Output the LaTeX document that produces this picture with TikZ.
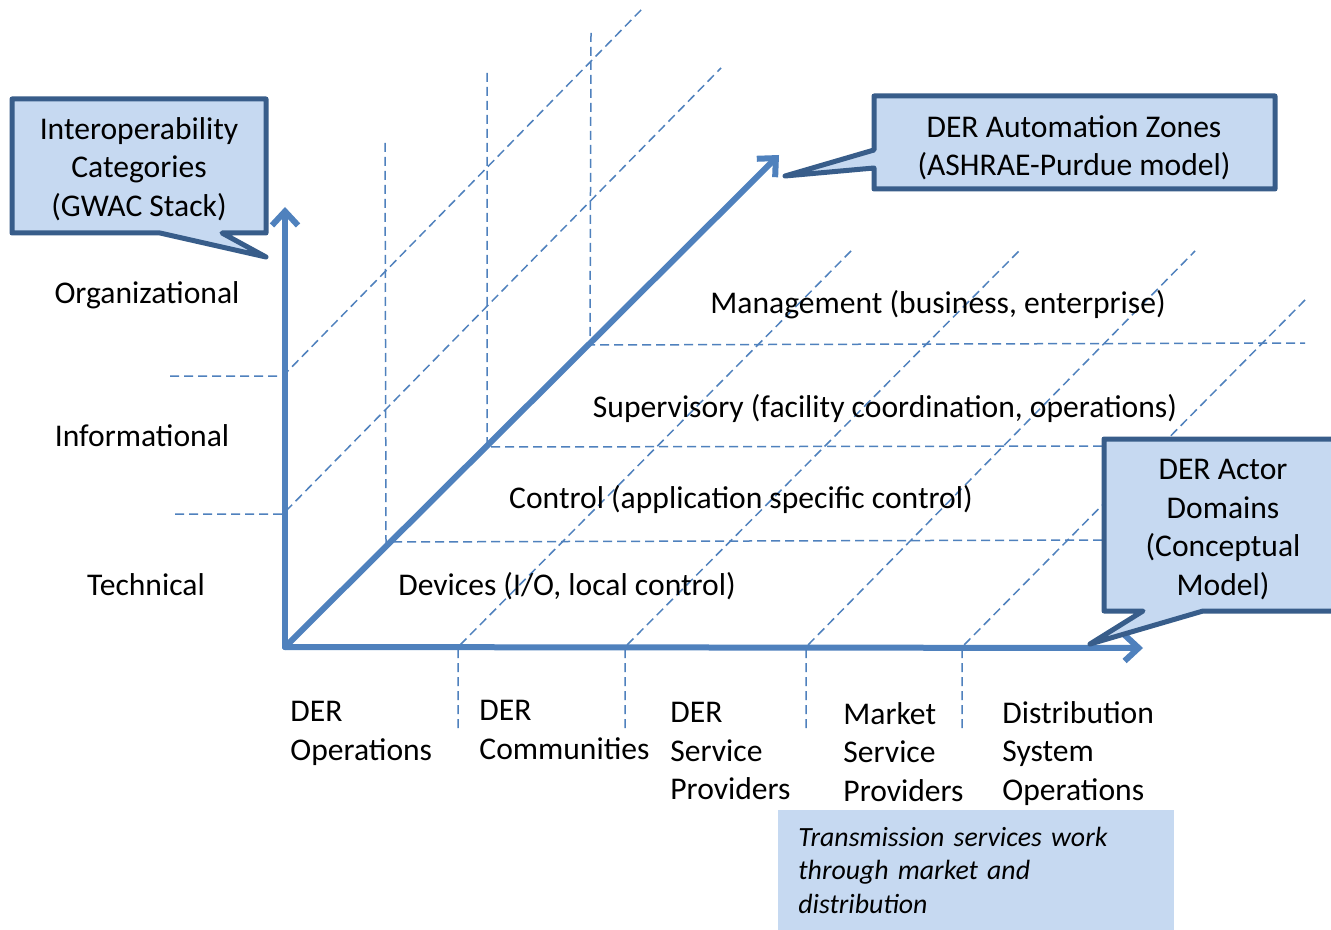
\documentclass[tikz,border=0pt]{standalone}
\usepackage{fontspec}
\setmainfont{Carlito}
\usetikzlibrary{arrows.meta}
\definecolor{axisblue}{HTML}{4F81BD}
\definecolor{callfill}{HTML}{C6D9F1}
\definecolor{callline}{HTML}{385D8A}
\begin{document}
\begin{tikzpicture}[x=0.5pt,y=-0.5pt,
  axis/.style={draw=axisblue,line width=3pt,-{Straight Barb[length=7pt,width=13pt]},line cap=round,line join=round},
  gridline/.style={draw=axisblue,line width=0.75pt,dash pattern=on 4.5pt off 2.5pt},
  callout/.style={fill=callfill,draw=callline,line width=2.5pt,line join=round},
  lbl/.style={font=\fontsize{15.8}{19.3}\selectfont,inner sep=0pt},
  mlbl/.style={lbl,align=left,anchor=north west},
  clbl/.style={lbl,align=center,anchor=north},
]
\clip (0,0) rectangle (1331,930);
\fill[white] (0,0) rectangle (1331,930);

% --- coordinates
\coordinate (O) at (285,647);
\coordinate (Ytip) at (285,207);
\coordinate (Xtip) at (1143,648);
\coordinate (Dtip) at (779,155);

% left horizontal + diagonal dashed
\coordinate (lh1a) at (170,376); \coordinate (lh1b) at (283,376); \coordinate (ld1) at (643,8);
\coordinate (lh2a) at (175,514); \coordinate (lh2b) at (283,514); \coordinate (ld2) at (721,68);
% vertical dashed from diagonal upward + horizontal to the right
\coordinate (c1) at (386,542); \coordinate (v1t) at (385,143); \coordinate (h1e) at (1110,540);
\coordinate (c2) at (487,447); \coordinate (v2t) at (487,73);  \coordinate (h2e) at (1110,446);
\coordinate (c3) at (590,345); \coordinate (v3t) at (591,33);  \coordinate (h3e) at (1305,343);
% right diagonals from horizontal axis
\coordinate (b1) at (458,647); \coordinate (t1) at (851,251); \coordinate (u1) at (458,728);
\coordinate (b2) at (625,647); \coordinate (t2) at (1019,251); \coordinate (u2) at (625,728);
\coordinate (b3) at (806,647); \coordinate (t3) at (1195,251); \coordinate (u3) at (806,728);
\coordinate (b4) at (962,647); \coordinate (t4) at (1305,300); \coordinate (u4) at (962,728);

% --- dashed grid
\draw[gridline] (lh1a) -- (lh1b) -- (ld1);
\draw[gridline] (lh2a) -- (lh2b) -- (ld2);
\draw[gridline] (v1t) -- (c1) -- (h1e);
\draw[gridline] (v2t) -- (c2) -- (h2e);
\draw[gridline] (v3t) -- (c3) -- (h3e);
\draw[gridline] (u1) -- (b1) -- (t1);
\draw[gridline] (u2) -- (b2) -- (t2);
\draw[gridline] (u3) -- (b3) -- (t3);
\draw[gridline] (u4) -- (b4) -- (t4);

% --- axes
\draw[axis] (O) -- (Ytip);
\draw[axis] (O) -- (Xtip);
\draw[axis] (O) -- (Dtip);

% --- callouts
\draw[callout] (12,99) -- (266,99) -- (266,233) -- (222,233) -- (266,257) -- (160,233) -- (12,233) -- cycle;
\node[clbl] (gwac) at (139,117) {Interoperability\\Categories\\(GWAC Stack)};

\draw[callout] (874,96) -- (1275,96) -- (1275,189) -- (874,189) -- (874,168) -- (785,176) -- (874,150) -- cycle;
\node[clbl] (zones) at (1074,115) {DER Automation Zones\\(ASHRAE-Purdue model)};

\draw[callout] (1104,439) -- (1345,439) -- (1345,611) -- (1203,611) -- (1090,644) -- (1143,611) -- (1104,611) -- cycle;
\node[clbl] (actor) at (1223,459) {DER Actor\\Domains\\(Conceptual\\Model)};

% --- text box
\node[fill=callfill,anchor=north west,minimum width=198pt,minimum height=60pt,
      text width=178pt,inner xsep=10pt,inner ysep=0pt,align=left,
      font=\fontsize{13.9}{16.75}\selectfont\itshape] (tbox) at (778,810)
      {Transmission services work\\through market and\\distribution};

% --- category labels
\node[lbl,anchor=base] (org) at (147,304) {Organizational};
\node[lbl,anchor=base] (inf) at (142,446) {Informational};
\node[lbl,anchor=base] (tec) at (146,595) {Technical};

% --- zone labels
\node[lbl,anchor=base] (mgmt) at (938,314) {Management (business, enterprise)};
\node[lbl,anchor=base] (sup) at (885,417) {Supervisory (facility coordination, operations)};
\node[lbl,anchor=base] (ctl) at (741,508) {Control (application specific control)};
\node[lbl,anchor=base] (dev) at (567,595) {Devices (I/O, local control)};

% --- domain labels
\node[mlbl] (d1) at (290,701) {DER\\Operations};
\node[mlbl] (d2) at (479,700) {DER\\Communities};
\node[mlbl] (d3) at (670,702) {DER\\Service\\Providers};
\node[mlbl] (d4) at (843,702) {Market\\Service\\Providers};
\node[mlbl] (d5) at (1002,701) {Distribution\\System\\Operations};
\end{tikzpicture}
\end{document}
